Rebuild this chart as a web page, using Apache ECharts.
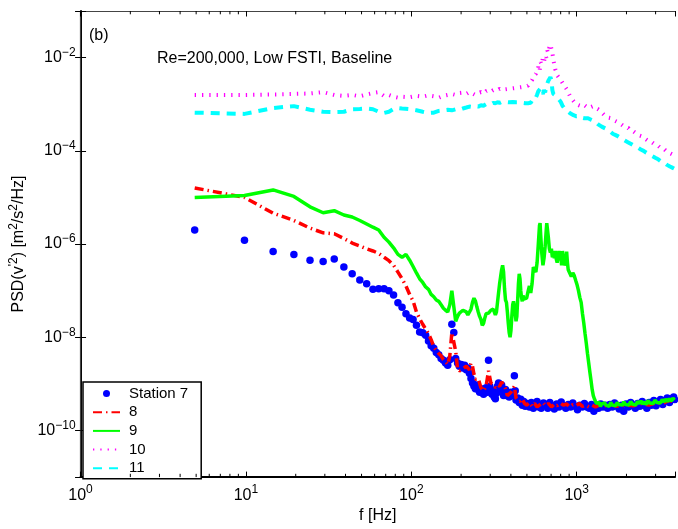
<!DOCTYPE html>
<html><head><meta charset="utf-8">
<script src="https://cdn.jsdelivr.net/npm/echarts@6/dist/echarts.min.js"></script>
<style>html,body{margin:0;padding:0;background:#fff}#c{width:678px;height:529px}</style>
</head><body><div id="c"></div>
<script>
// ---- axis ranges / ticks ----
const X_MIN = 1, X_MAX = 3930;      // Hz
const Y_MIN = 1e-11, Y_MAX = 1e-1;  // PSD
const xTickExps = [0, 1, 2, 3];
const yTickExps = [-10, -8, -6, -4, -2];
const minorMultipliers = [2, 3, 4, 5, 6, 7, 8, 9];
const seriesNames = ['Station 7', '8', '9', '10', '11'];
const annotation = 'Re=200,000, Low FSTI, Baseline';
const panelLabel = '(b)';

// ---- data: [f (Hz), PSD] ----
const station7 = [[4.9,2.0e-6],[9.8,1.2e-6],[14.6,6.9e-7],[19.5,6.0e-7],[24.4,4.5e-7],[29.3,4.2e-7],[34.2,4.8e-7],[39.1,3.2e-7],[43.9,2.3e-7],[48.8,1.7e-7],[53.7,1.4e-7],[58.6,1.07e-7],[63.5,1.1e-7],[68.4,1.1e-7],[73.2,1.0e-7],[78.1,8.1e-8],[83.0,5.5e-8],[87.9,4.4e-8],[92.8,3.2e-8],[97.7,2.6e-8],[102.5,2.4e-8],[107.4,1.8e-8],[112.3,1.3e-8],[117.2,1.25e-8],[122.1,1.1e-8],[127.0,8.3e-9],[131.8,6.6e-9],[136.7,5.8e-9],[141.6,4.7e-9],[146.5,4.2e-9],[151.4,3.5e-9],[156.3,3.2e-9],[161.1,2.8e-9],[166.0,2.5e-9],[170.9,3.3e-9],[175.8,1.9e-8],[180.7,1.26e-8],[185.5,3.5e-9],[190.4,2.8e-9],[195.3,2.4e-9],[200.2,2.6e-9],[205.1,2.2e-9],[210.0,2.5e-9],[214.9,2.0e-9],[219.7,2.2e-9],[224.6,1.7e-9],[229.5,1.3e-9],[234.4,1.05e-9],[239.3,8.9e-10],[244.1,7.9e-10],[249.0,9.5e-10],[253.9,7.6e-10],[258.8,6.6e-10],[263.7,7.9e-10],[268.6,7.1e-10],[273.4,6.0e-10],[278.3,7.6e-10],[283.2,8.3e-10],[288.1,6.6e-10],[293.0,3.2e-9],[297.9,8.9e-10],[302.7,7.6e-10],[307.6,6.0e-10],[312.5,7.1e-10],[317.4,5.2e-10],[322.3,4.8e-10],[327.2,6.3e-10],[332.0,8.9e-10],[336.9,1.05e-9],[341.8,1.0e-9],[346.7,7.9e-10],[351.6,9.5e-10],[356.5,7.1e-10],[361.3,5.6e-10],[366.2,6.6e-10],[371.1,7.6e-10],[376.0,5.6e-10],[380.9,6.3e-10],[390.6,5.2e-10],[400.4,6.6e-10],[410.2,5.6e-10],[419.9,1.5e-9],[424.8,7.1e-10],[429.7,4.5e-10],[439.5,5.0e-10],[449.2,4.0e-10],[459.0,4.7e-10],[468.8,3.5e-10],[478.5,4.2e-10],[488.3,3.3e-10],[503,3.8e-10],[518,3.2e-10],[532,4.0e-10],[547,3.0e-10],[562,3.6e-10],[576,4.2e-10],[591,3.2e-10],[610,3.0e-10],[630,3.9e-10],[649,3.5e-10],[669,3.0e-10],[688,4.0e-10],[708,3.4e-10],[732,2.9e-10],[757,3.7e-10],[781,3.2e-10],[806,4.1e-10],[830,3.4e-10],[859,3.0e-10],[889,3.6e-10],[918,3.2e-10],[947,3.9e-10],[977,3.3e-10],[1011,2.8e-10],[1045,3.5e-10],[1079,3.2e-10],[1113,3.8e-10],[1152,3.2e-10],[1191,3.0e-10],[1230,3.6e-10],[1270,2.6e-10],[1309,3.4e-10],[1353,3.0e-10],[1397,3.7e-10],[1440,3.2e-10],[1489,3.5e-10],[1538,3.0e-10],[1587,3.6e-10],[1641,3.2e-10],[1694,3.9e-10],[1748,3.3e-10],[1807,2.9e-10],[1865,3.5e-10],[1924,2.6e-10],[1987,3.7e-10],[2051,3.2e-10],[2119,4.0e-10],[2188,3.4e-10],[2261,3.0e-10],[2334,3.8e-10],[2412,3.3e-10],[2490,4.2e-10],[2573,3.5e-10],[2656,3.0e-10],[2744,4.0e-10],[2832,3.5e-10],[2925,4.4e-10],[3018,3.4e-10],[3115,4.0e-10],[3213,4.6e-10],[3315,3.6e-10],[3418,4.4e-10],[3525,5.0e-10],[3638,4.0e-10],[3750,4.8e-10],[3857,5.2e-10],[3906,4.6e-10]];

const station8 = [[4.9,1.6e-5],[9.8,1.0e-5],[14.6,4.6e-6],[19.5,3.2e-6],[24.4,2.2e-6],[29.3,1.74e-6],[34.2,1.66e-6],[39.1,1.32e-6],[43.9,1.05e-6],[48.8,9.1e-7],[53.7,7.9e-7],[58.6,7.1e-7],[63.5,6.3e-7],[68.4,5.2e-7],[73.2,4.4e-7],[78.1,3.5e-7],[83.0,2.5e-7],[87.9,1.8e-7],[92.8,1.26e-7],[97.7,8.3e-8],[102.5,6.0e-8],[107.4,3.5e-8],[112.3,2.5e-8],[117.2,1.9e-8],[122.1,1.5e-8],[127.0,1.2e-8],[131.8,8.9e-9],[136.7,6.3e-9],[141.6,5.2e-9],[146.5,4.5e-9],[151.4,4.0e-9],[156.3,3.3e-9],[161.1,3.0e-9],[166.0,2.6e-9],[170.9,4.0e-9],[175.8,1.26e-8],[180.7,1.3e-8],[185.5,5.0e-9],[190.4,2.1e-9],[195.3,1.9e-9],[205.1,2.1e-9],[214.9,2.4e-9],[219.7,2.5e-9],[224.6,2.0e-9],[229.5,2.8e-9],[234.4,2.4e-9],[239.3,1.6e-9],[244.1,1.26e-9],[253.9,1.3e-9],[263.7,8.3e-10],[273.4,7.1e-10],[283.2,8.9e-10],[293.0,1.9e-9],[297.9,1.8e-9],[302.7,1.05e-9],[312.5,1.0e-9],[322.3,8.3e-10],[332.0,9.5e-10],[341.8,8.9e-10],[351.6,1.1e-9],[361.3,1.2e-9],[371.1,7.9e-10],[380.9,5.6e-10],[390.6,5.2e-10],[400.4,6.6e-10],[410.2,7.6e-10],[419.9,8.9e-10],[429.7,5.0e-10],[439.5,4.5e-10],[454.1,4.2e-10],[468.8,4.8e-10],[483.4,3.8e-10],[498.0,3.5e-10],[517.6,4.0e-10],[537.1,3.3e-10],[556.7,3.8e-10],[576.2,3.2e-10],[600.6,3.6e-10],[625.0,4.0e-10],[649.4,3.4e-10],[673.8,3.8e-10],[703.1,3.2e-10],[732.4,3.7e-10],[761.7,3.4e-10],[795.9,3.9e-10],[830.1,3.5e-10],[869.2,3.7e-10],[908.2,3.2e-10],[947.3,3.6e-10],[991.2,3.4e-10],[1035,3.8e-10],[1084,3.3e-10],[1133,3.5e-10],[1187,3.2e-10],[1240,3.5e-10],[1299,3.2e-10],[1367,3.5e-10],[1465,3.4e-10],[1611,3.6e-10],[1758,3.3e-10],[1953,3.5e-10],[2197,3.4e-10],[2441,3.8e-10],[2734,3.5e-10],[3027,4.0e-10],[3320,3.8e-10],[3613,4.4e-10],[3906,4.2e-10]];

const station9 = [[4.9,1.0e-5],[9.8,1.1e-5],[14.6,1.45e-5],[19.5,1.05e-5],[24.4,6.3e-6],[29.3,4.7e-6],[34.2,5.2e-6],[39.1,4.2e-6],[43.9,3.8e-6],[48.8,3.2e-6],[53.7,2.7e-6],[58.6,2.3e-6],[63.5,2.0e-6],[68.4,1.4e-6],[73.2,1.1e-6],[78.1,8.3e-7],[83.0,6.0e-7],[87.9,5.2e-7],[92.8,6.0e-7],[97.7,4.5e-7],[102.5,3.3e-7],[107.4,2.4e-7],[112.3,1.8e-7],[117.2,1.5e-7],[122.1,1.2e-7],[127.0,1.07e-7],[131.8,8.3e-8],[136.7,7.4e-8],[141.6,6.3e-8],[146.5,5.9e-8],[151.4,5.0e-8],[156.3,4.2e-8],[161.1,3.8e-8],[166.0,3.5e-8],[170.9,5.0e-8],[175.8,1.0e-7],[180.7,4.5e-8],[185.5,2.2e-8],[190.4,2.8e-8],[195.3,3.3e-8],[200.2,3.5e-8],[205.1,3.8e-8],[210.0,4.0e-8],[214.9,3.5e-8],[219.7,3.0e-8],[224.6,3.2e-8],[229.5,4.0e-8],[234.4,5.6e-8],[239.3,6.9e-8],[244.1,6.0e-8],[249.0,4.5e-8],[253.9,3.5e-8],[258.8,2.8e-8],[263.7,2.4e-8],[268.6,1.8e-8],[273.4,2.0e-8],[278.3,2.6e-8],[283.2,3.2e-8],[288.1,3.5e-8],[293.0,3.3e-8],[297.9,3.0e-8],[302.7,3.8e-8],[307.6,3.5e-8],[312.5,4.0e-8],[317.4,3.5e-8],[322.3,3.0e-8],[327.2,3.5e-8],[332.0,5.6e-8],[336.9,8.9e-8],[341.8,1.4e-7],[346.7,2.0e-7],[351.6,2.8e-7],[356.5,3.5e-7],[361.3,2.5e-7],[366.2,1.1e-7],[371.1,6.3e-8],[376.0,5.6e-8],[380.9,3.5e-8],[385.8,2.0e-8],[390.6,1.26e-8],[395.5,1.0e-8],[400.4,1.4e-8],[405.3,2.8e-8],[410.2,5.0e-8],[415.0,5.9e-8],[419.9,4.5e-8],[424.8,3.2e-8],[429.7,2.2e-8],[434.6,2.8e-8],[439.5,6.3e-8],[444.3,1.4e-7],[449.2,2.3e-7],[454.1,1.8e-7],[459.0,1.0e-7],[463.9,7.1e-8],[468.8,5.9e-8],[473.6,7.9e-8],[478.5,6.6e-8],[488.3,6.3e-8],[498.1,6.9e-8],[507.8,9.5e-8],[517.6,1.26e-7],[527.3,8.9e-8],[537.1,1.4e-7],[546.9,3.2e-7],[556.7,3.5e-7],[566.4,2.5e-7],[576.2,4.0e-7],[586.0,1.0e-6],[595.7,2.5e-6],[600.6,2.8e-6],[605.5,1.6e-6],[615.2,6.3e-7],[625.0,3.5e-7],[634.8,5.0e-7],[644.5,8.9e-7],[654.3,2.0e-6],[659.2,2.8e-6],[664.1,2.6e-6],[673.8,1.4e-6],[683.6,7.9e-7],[693.4,6.6e-7],[703.1,7.9e-7],[712.9,5.2e-7],[722.7,6.0e-7],[732.4,5.0e-7],[742.2,7.1e-7],[752.0,4.8e-7],[761.7,4.0e-7],[771.5,5.2e-7],[781.3,7.1e-7],[791.0,4.5e-7],[800.8,5.6e-7],[810.6,3.5e-7],[820.3,7.1e-7],[830.1,5.0e-7],[839.9,3.5e-7],[849.6,3.2e-7],[859.4,4.2e-7],[869.2,6.9e-7],[878.9,4.0e-7],[888.7,2.8e-7],[898.4,2.6e-7],[908.2,2.8e-7],[927.7,2.0e-7],[947.3,2.4e-7],[966.8,2.1e-7],[986.3,1.66e-7],[1006,1.32e-7],[1025,1.0e-7],[1045,7.1e-8],[1064,5.6e-8],[1084,3.2e-8],[1104,2.0e-8],[1123,1.2e-8],[1143,7.4e-9],[1162,4.5e-9],[1182,2.8e-9],[1201,1.8e-9],[1221,1.17e-9],[1240,7.6e-10],[1260,5.6e-10],[1279,4.8e-10],[1299,4.2e-10],[1318,3.8e-10],[1343,3.5e-10],[1367,4.0e-10],[1392,3.3e-10],[1416,3.7e-10],[1445,3.4e-10],[1475,3.9e-10],[1504,3.5e-10],[1538,3.8e-10],[1572,3.3e-10],[1606,4.0e-10],[1641,3.5e-10],[1680,3.8e-10],[1719,3.4e-10],[1758,4.0e-10],[1797,3.6e-10],[1841,3.9e-10],[1885,3.5e-10],[1929,4.1e-10],[1973,3.6e-10],[2022,3.9e-10],[2070,3.5e-10],[2119,4.2e-10],[2168,3.7e-10],[2222,4.0e-10],[2275,3.5e-10],[2329,4.2e-10],[2388,3.8e-10],[2446,4.3e-10],[2505,3.7e-10],[2568,4.1e-10],[2632,3.6e-10],[2695,4.4e-10],[2764,3.9e-10],[2832,4.2e-10],[2905,3.8e-10],[2979,4.5e-10],[3052,4.0e-10],[3130,4.4e-10],[3208,3.9e-10],[3291,4.6e-10],[3374,4.1e-10],[3457,4.7e-10],[3545,4.2e-10],[3633,4.8e-10],[3726,4.3e-10],[3818,4.9e-10],[3906,4.5e-10]];

const station10 = [[4.9,1.58e-3],[9.8,1.58e-3],[14.6,1.62e-3],[19.5,1.66e-3],[24.4,1.70e-3],[29.3,1.82e-3],[34.2,1.58e-3],[39.1,1.51e-3],[43.9,1.58e-3],[48.8,1.48e-3],[53.7,1.62e-3],[58.6,1.74e-3],[63.5,1.82e-3],[68.4,1.51e-3],[73.2,1.58e-3],[78.1,1.45e-3],[83.0,1.38e-3],[87.9,1.45e-3],[97.7,1.41e-3],[107.4,1.51e-3],[117.2,1.45e-3],[127.0,1.55e-3],[136.7,1.48e-3],[146.5,1.38e-3],[156.3,1.51e-3],[166.0,1.58e-3],[175.8,1.66e-3],[185.5,1.58e-3],[195.3,1.74e-3],[205.1,1.78e-3],[214.9,1.66e-3],[224.6,1.82e-3],[234.4,1.70e-3],[244.1,1.58e-3],[253.9,1.74e-3],[263.7,1.82e-3],[273.4,1.70e-3],[283.2,1.91e-3],[293.0,2.00e-3],[302.7,1.86e-3],[312.5,2.00e-3],[322.3,2.09e-3],[332.0,2.00e-3],[341.8,2.14e-3],[351.6,2.04e-3],[361.3,2.19e-3],[371.1,2.09e-3],[380.9,2.24e-3],[390.6,2.14e-3],[400.4,2.29e-3],[410.2,2.19e-3],[419.9,2.34e-3],[429.7,2.24e-3],[439.5,2.40e-3],[449.2,2.29e-3],[459.0,2.45e-3],[468.8,2.34e-3],[478.5,2.51e-3],[488.3,2.40e-3],[498.1,2.63e-3],[507.8,2.51e-3],[517.6,2.82e-3],[527.3,3.02e-3],[537.1,3.31e-3],[546.9,3.98e-3],[556.7,3.80e-3],[566.4,4.47e-3],[576.2,5.25e-3],[586.0,6.31e-3],[595.7,5.01e-3],[605.5,7.94e-3],[615.2,7.08e-3],[625.0,1.0e-2],[634.8,8.32e-3],[644.5,1.12e-2],[654.3,1.0e-2],[664.1,1.41e-2],[673.8,1.26e-2],[683.6,1.66e-2],[693.4,1.91e-2],[703.1,2.0e-2],[712.9,1.26e-2],[722.7,8.91e-3],[732.4,7.08e-3],[742.2,5.62e-3],[752.0,5.01e-3],[761.7,4.17e-3],[771.5,4.47e-3],[781.3,3.80e-3],[800.8,3.31e-3],[820.3,3.02e-3],[839.9,2.51e-3],[859.4,2.24e-3],[878.9,2.00e-3],[898.4,1.66e-3],[917.9,1.41e-3],[937.5,1.32e-3],[966.8,1.12e-3],[996.1,1.0e-3],[1025,9.55e-4],[1064,9.12e-4],[1104,9.77e-4],[1143,8.91e-4],[1182,9.33e-4],[1221,8.71e-4],[1260,9.12e-4],[1299,8.32e-4],[1338,7.94e-4],[1377,7.41e-4],[1416,6.61e-4],[1465,5.89e-4],[1514,5.62e-4],[1562,5.13e-4],[1611,5.01e-4],[1660,4.57e-4],[1709,4.37e-4],[1758,4.17e-4],[1807,3.80e-4],[1856,3.72e-4],[1904,3.55e-4],[1953,3.24e-4],[2002,3.16e-4],[2051,3.09e-4],[2100,2.75e-4],[2148,2.69e-4],[2197,2.63e-4],[2246,2.40e-4],[2295,2.34e-4],[2344,2.34e-4],[2393,2.14e-4],[2441,2.09e-4],[2490,2.04e-4],[2539,1.86e-4],[2588,1.82e-4],[2637,1.82e-4],[2686,1.66e-4],[2734,1.62e-4],[2783,1.62e-4],[2832,1.48e-4],[2881,1.48e-4],[2930,1.45e-4],[2979,1.35e-4],[3027,1.32e-4],[3076,1.32e-4],[3125,1.20e-4],[3174,1.20e-4],[3223,1.17e-4],[3271,1.10e-4],[3320,1.10e-4],[3369,1.10e-4],[3418,1.0e-4],[3467,1.0e-4],[3516,1.0e-4],[3564,9.12e-5],[3613,9.12e-5],[3662,9.12e-5],[3711,8.51e-5],[3760,8.51e-5],[3809,8.32e-5],[3857,7.76e-5],[3906,7.94e-5]];

const station11 = [[4.9,6.6e-4],[9.8,6.2e-4],[14.6,8.3e-4],[19.5,9.1e-4],[24.4,7.6e-4],[29.3,6.9e-4],[34.2,6.8e-4],[39.1,6.9e-4],[43.9,7.8e-4],[48.8,7.9e-4],[53.7,8.1e-4],[58.6,7.8e-4],[63.5,6.9e-4],[68.4,6.5e-4],[73.2,6.9e-4],[78.1,7.9e-4],[83.0,8.3e-4],[87.9,8.1e-4],[97.7,7.8e-4],[107.4,7.4e-4],[117.2,6.9e-4],[127.0,6.5e-4],[136.7,6.6e-4],[146.5,7.2e-4],[156.3,7.4e-4],[166.0,7.6e-4],[175.8,7.4e-4],[185.5,7.8e-4],[195.3,7.6e-4],[205.1,8.1e-4],[214.9,8.5e-4],[224.6,8.9e-4],[234.4,8.7e-4],[244.1,9.1e-4],[253.9,8.9e-4],[263.7,9.5e-4],[273.4,9.3e-4],[283.2,1.0e-3],[293.0,1.02e-3],[302.7,1.0e-3],[312.5,1.07e-3],[322.3,1.05e-3],[332.0,1.1e-3],[341.8,1.07e-3],[351.6,1.12e-3],[361.3,1.07e-3],[371.1,1.12e-3],[380.9,1.07e-3],[390.6,1.1e-3],[400.4,1.05e-3],[410.2,1.12e-3],[419.9,1.07e-3],[429.7,1.1e-3],[439.5,1.05e-3],[449.2,1.1e-3],[459.0,1.02e-3],[468.8,1.07e-3],[478.5,1.02e-3],[488.3,1.05e-3],[498.1,1.0e-3],[507.8,1.05e-3],[517.6,1.0e-3],[527.3,1.07e-3],[537.1,1.2e-3],[546.9,1.26e-3],[556.7,1.2e-3],[566.4,1.3e-3],[576.2,1.6e-3],[586.0,1.9e-3],[595.7,1.8e-3],[605.5,2.2e-3],[615.2,1.9e-3],[625.0,1.66e-3],[634.8,2.0e-3],[644.5,1.8e-3],[654.3,2.4e-3],[664.1,2.8e-3],[673.8,3.2e-3],[683.6,3.5e-3],[693.4,3.8e-3],[703.1,3.3e-3],[712.9,2.0e-3],[722.7,1.66e-3],[732.4,1.6e-3],[742.2,1.8e-3],[752.0,1.5e-3],[761.7,1.4e-3],[771.5,1.45e-3],[781.3,1.26e-3],[800.8,1.12e-3],[820.3,9.3e-4],[839.9,8.3e-4],[859.4,7.6e-4],[878.9,7.1e-4],[898.4,6.8e-4],[917.9,6.3e-4],[937.5,6.2e-4],[957.0,5.8e-4],[976.6,5.9e-4],[996.1,5.5e-4],[1025,5.6e-4],[1055,5.2e-4],[1084,5.4e-4],[1113,5.0e-4],[1143,4.9e-4],[1172,5.0e-4],[1201,4.7e-4],[1230,4.6e-4],[1260,4.4e-4],[1289,4.3e-4],[1318,4.0e-4],[1348,3.7e-4],[1377,3.5e-4],[1416,3.3e-4],[1455,3.2e-4],[1494,3.0e-4],[1533,2.8e-4],[1572,2.7e-4],[1611,2.5e-4],[1660,2.3e-4],[1709,2.2e-4],[1758,2.1e-4],[1807,1.95e-4],[1856,1.86e-4],[1904,1.74e-4],[1953,1.66e-4],[2002,1.58e-4],[2051,1.51e-4],[2100,1.45e-4],[2148,1.38e-4],[2197,1.32e-4],[2246,1.26e-4],[2295,1.23e-4],[2344,1.17e-4],[2393,1.12e-4],[2441,1.07e-4],[2490,1.02e-4],[2539,1.0e-4],[2588,9.5e-5],[2637,9.1e-5],[2686,8.9e-5],[2734,8.5e-5],[2783,8.1e-5],[2832,7.9e-5],[2881,7.6e-5],[2930,7.4e-5],[2979,7.1e-5],[3027,6.9e-5],[3076,6.6e-5],[3125,6.5e-5],[3174,6.3e-5],[3223,6.0e-5],[3271,5.9e-5],[3320,5.6e-5],[3369,5.5e-5],[3418,5.4e-5],[3467,5.1e-5],[3516,5.0e-5],[3564,4.9e-5],[3613,4.8e-5],[3662,4.6e-5],[3711,4.5e-5],[3760,4.4e-5],[3809,4.3e-5],[3857,4.2e-5],[3906,4.1e-5]];

// ---- build ----
const FONT = 'Liberation Sans, Arial, sans-serif';
const LX_MIN = Math.log10(X_MIN), LX_MAX = Math.log10(X_MAX);
const LY_MIN = Math.log10(Y_MIN), LY_MAX = Math.log10(Y_MAX);
const toLog = arr => arr.map(([f, p]) => [Math.log10(f), Math.log10(p)]);
const supLabel = (exps) => (v) => {
  const e = Math.round(v);
  if (Math.abs(v - e) > 1e-6 || exps.indexOf(e) < 0) return '';
  return '{b|10}{s|' + String(e).replace('-', '\u2212') + '}';
};
const labelRich = {
  b: { fontSize: 16, fontFamily: FONT, color: '#000', lineHeight: 16 },
  s: { fontSize: 12, fontFamily: FONT, color: '#000', padding: [0, 0, 10, 0] }
};
const minorTicks = [];
xTickExps.forEach(n => minorMultipliers.forEach(m => {
  const v = m * Math.pow(10, n);
  if (v < X_MAX) minorTicks.push([Math.log10(v), LY_MIN]);
}));
const legendData = seriesNames.map((n, i) => i === 0 ? { name: n } : { name: n, itemStyle: { opacity: 0 } });

const chart = echarts.init(document.getElementById('c'), null, { renderer: 'canvas' });
chart.setOption({
  animation: false,
  backgroundColor: '#fff',
  grid: { left: 77, top: 11, width: 600, height: 475, containLabel: false },
  xAxis: [
    { type: 'value', min: LX_MIN, max: LX_MAX, interval: 1, position: 'bottom',
      axisLine: { lineStyle: { color: '#000', width: 2 } },
      axisTick: { inside: true, length: 5.5, lineStyle: { color: '#000', width: 1 } },
      splitLine: { show: false },
      axisLabel: { formatter: supLabel(xTickExps), rich: labelRich, margin: 7 },
      name: 'f [Hz]', nameLocation: 'middle', nameGap: 27,
      nameTextStyle: { fontSize: 16, fontFamily: FONT, color: '#000' } },
    { type: 'value', min: LX_MIN, max: LX_MAX, interval: 1, position: 'top',
      axisLine: { lineStyle: { color: '#444', width: 1.2 } },
      axisTick: { inside: true, length: 5.5, lineStyle: { color: '#000', width: 1 } },
      splitLine: { show: false }, axisLabel: { show: false } }
  ],
  yAxis: [
    { type: 'value', min: LY_MIN, max: LY_MAX, splitNumber: 5, position: 'left',
      axisLine: { lineStyle: { color: '#000', width: 2 } },
      axisTick: { inside: true, length: 5.5, lineStyle: { color: '#000', width: 1 } },
      splitLine: { show: false },
      axisLabel: { formatter: supLabel(yTickExps), rich: labelRich, margin: 5 },
      name: "PSD(v{s|'2}) [m{s|2}/s{s|2}/Hz]", nameLocation: 'middle', nameGap: 40,
      nameTextStyle: { fontSize: 16, fontFamily: FONT, color: '#000',
        rich: { s: { fontSize: 12, fontFamily: FONT, color: '#000', padding: [0, 0, 9, 0] } } } },
    { type: 'value', min: LY_MIN, max: LY_MAX, splitNumber: 5, position: 'right',
      axisLine: { lineStyle: { color: '#444', width: 1.2 } },
      axisTick: { inside: true, length: 5.5, lineStyle: { color: '#000', width: 1 } },
      splitLine: { show: false }, axisLabel: { show: false } }
  ],
  legend: {
    orient: 'vertical', left: 83, top: 382, data: legendData, selectedMode: false,
    itemWidth: 27, itemHeight: 7, itemGap: 3.7, padding: [4, 13, 3, 9],
    borderColor: '#000', borderWidth: 1.5, backgroundColor: '#fff',
    textStyle: { fontSize: 15, fontFamily: FONT, color: '#000', lineHeight: 15, padding: [0, 0, 0, 4] }
  },
  graphic: [
    { type: 'text', x: 89, y: 36, style: { text: panelLabel, font: '16px ' + FONT, fill: '#000', textVerticalAlign: 'middle', verticalAlign: 'middle' } },
    { type: 'text', x: 157, y: 59, style: { text: annotation, font: '16px ' + FONT, fill: '#000', textVerticalAlign: 'middle', verticalAlign: 'middle' } }
  ],
  series: [
    { name: seriesNames[0], type: 'scatter', data: toLog(station7), symbol: 'circle', symbolSize: 7.5,
      itemStyle: { color: '#0000ff', opacity: 1 }, z: 2 },
    { name: seriesNames[1], type: 'line', data: toLog(station8), symbol: 'none', showSymbol: false,
      lineStyle: { color: '#ff0000', width: 3.5, type: [9, 4, 1.5, 4] }, itemStyle: { color: '#ff0000' }, z: 3 },
    { name: seriesNames[2], type: 'line', data: toLog(station9), symbol: 'none', showSymbol: false,
      lineStyle: { color: '#00ff00', width: 3.5 }, itemStyle: { color: '#00ff00' }, z: 4 },
    { name: seriesNames[3], type: 'line', data: toLog(station10), symbol: 'none', showSymbol: false,
      lineStyle: { color: '#ff00ff', width: 4, type: [1.3, 6], cap: 'butt' }, itemStyle: { color: '#ff00ff' }, z: 5 },
    { name: seriesNames[4], type: 'line', data: toLog(station11), symbol: 'none', showSymbol: false,
      lineStyle: { color: '#00ffff', width: 4, type: [9, 7] }, itemStyle: { color: '#00ffff' }, z: 6 },
    { name: 'minorTicks', type: 'custom', data: minorTicks, silent: true, z: 10,
      renderItem: (params, api) => {
        const x = api.value(0);
        const b = api.coord([x, LY_MIN]);
        const t = api.coord([x, LY_MAX]);
        return { type: 'group', children: [
          { type: 'line', shape: { x1: b[0], y1: b[1], x2: b[0], y2: b[1] - 3.3 }, style: { stroke: '#000', lineWidth: 1 } },
          { type: 'line', shape: { x1: t[0], y1: t[1], x2: t[0], y2: t[1] + 3.3 }, style: { stroke: '#000', lineWidth: 1 } }
        ] };
      } }
  ]
});
</script></body></html>
